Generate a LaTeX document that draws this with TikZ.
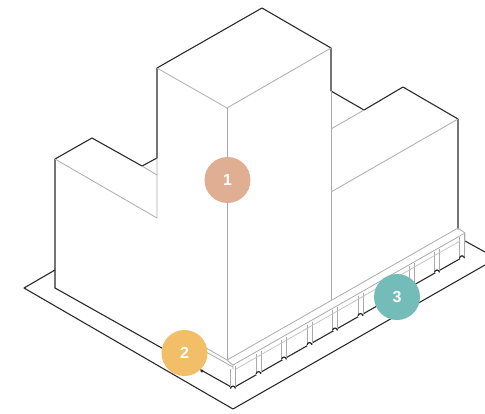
\documentclass[tikz,border=0pt]{standalone}
\usepackage{fontspec}
\setmainfont{Liberation Sans}
\definecolor{ink}{HTML}{2A2A2A}
\definecolor{soft}{HTML}{ABABAB}
\definecolor{badgeA}{HTML}{E0AE92}
\definecolor{badgeB}{HTML}{F2BE67}
\definecolor{badgeC}{HTML}{74BCB8}
\tikzset{
  heavy/.style={draw=ink,line width=1.1pt,line join=round,line cap=round},
  thin line/.style={draw=soft,line width=0.8pt,line join=round},
  post/.style={draw=soft,line width=0.8pt},
  badge/.style={circle,minimum size=46pt,inner sep=0pt,text=white,font=\fontsize{16}{16}\selectfont\bfseries}
}
\begin{document}
\begin{tikzpicture}[x=1pt,y=-1pt]
\useasboundingbox (0,0) rectangle (485,413);
% site
\draw[heavy] (55,270) -- (24,288) -- (233,409) -- (485,265);
\draw[heavy] (465,241) -- (485,252);
% building silhouette
\draw[heavy] (55,288) -- (55,159) -- (92,138) -- (142,166) -- (157,158) -- (157,68) -- (262,8) -- (331,48) -- (331,91) -- (364,110) -- (403,87) -- (458,119) -- (458,229);
% ground line
\draw[heavy] (55,288) -- (233,388);
\draw[heavy] (233,388) -- (463,257);
% small foot left of the corner
\fill[ink] (202,371) circle[radius=1.6];
% posts
\foreach \x in {233,258.5,284,309.5,335,360.5,386,411.5,437,462}{
  \pgfmathsetmacro{\yy}{368-(\x-233)*0.5755}
  \pgfmathsetmacro{\yb}{389.5-(\x-233)*0.569}
  \fill[white] (\x-2.4,\yy) rectangle (\x+2.4,\yb);
  \draw[post] (\x-2.4,\yy+1) -- (\x-2.4,\yb-1);
  \draw[post] (\x+2.4,\yy-2) -- (\x+2.4,\yb-2);
  \draw[ink,line width=1.2pt] (\x-2.4,\yb-1) arc[start angle=180,end angle=360,radius=2.4];
}
% plinth rails
\draw[thin line] (227,360) -- (458,228) -- (465,233) -- (464.5,256);
\draw[thin line] (233,365) -- (465,233);
\draw[thin line,soft!70] (236,369) -- (460,241);
\draw[thin line] (227,360) -- (233,365) -- (233,369);
\draw[thin line] (190,338.5) -- (227,360);
\draw[thin line] (190,343) -- (233,367);
% building inner edges
\draw[thin line] (157,68) -- (227,108) -- (331,48);
\draw[thin line] (227,108) -- (227,360);
\draw[thin line] (331,91) -- (331,300);
\draw[thin line] (55,159) -- (157,218) -- (157,158);
\draw[thin line] (142,166) -- (157,175);
\draw[thin line] (364,110) -- (331,129);
\draw[thin line] (458,119) -- (331,192);
% badges
\node[badge,fill=badgeA] (one) at (227.5,180) {1};
\node[badge,fill=badgeB] (two) at (184.5,353) {2};
\node[badge,fill=badgeC] (three) at (397,297) {3};
\end{tikzpicture}
\end{document}
